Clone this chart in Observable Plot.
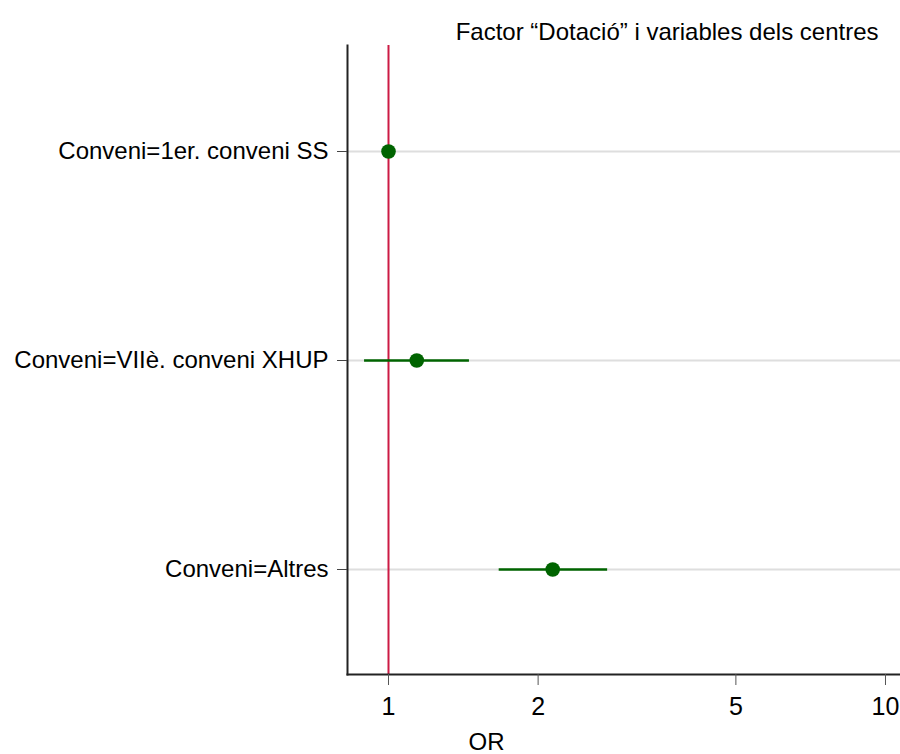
<!DOCTYPE html>
<html>
<head>
<meta charset="utf-8">
<script src="https://cdn.jsdelivr.net/npm/d3@7"></script>
<script src="https://cdn.jsdelivr.net/npm/@observablehq/plot@0.6"></script>
<style>
  html, body { margin: 0; padding: 0; background: #fff; }
  svg { display: block; }
</style>
</head>
<body>
<div id="chart"></div>
<script>
const categories = ["Conveni=1er. conveni SS", "Conveni=VIIè. conveni XHUP", "Conveni=Altres"];
const orValues = [1.0, 1.14, 2.14];
const ciLow = [1.0, 0.895, 1.67];
const ciHigh = [1.0, 1.455, 2.76];
const xTicks = [1, 2, 5, 10];
const xDomain = [0.827, 10.72];
const refValue = [1];
const titleText = "Factor \u201cDotació\u201d i variables dels centres";
const xLabel = "OR";

const rows = categories.map((c, i) => ({cat: c, or: orValues[i], lo: ciLow[i], hi: ciHigh[i]}));

const font = "'Liberation Sans', Arial, Helvetica, sans-serif";
const green = "#006400";
const fs = 24;

const chart = Plot.plot({
  width: 900,
  height: 754,
  marginLeft: 347,
  marginRight: 0,
  marginTop: 45,
  marginBottom: 80,
  style: {fontFamily: font, fontSize: fs + "px", color: "#000", background: "#fff"},
  x: {type: "log", domain: xDomain},
  y: {type: "point", domain: categories, padding: 0.5},
  marks: [
    Plot.ruleY(categories, {y: d => d, stroke: "#dedede", strokeWidth: 2}),
    Plot.ruleX(refValue, {stroke: "#cc1a44", strokeWidth: 2}),
    Plot.ruleY(rows, {y: "cat", x1: "lo", x2: "hi", stroke: green, strokeWidth: 2.5}),
    Plot.dot(rows, {y: "cat", x: "or", r: 7.3, fill: green, stroke: "none"}),
    Plot.frame({anchor: "left", stroke: "#222", strokeWidth: 2}),
    Plot.frame({anchor: "bottom", stroke: "#222", strokeWidth: 2}),
    Plot.axisX({ticks: xTicks, tickFormat: d => String(d), tickSize: 11, tickPadding: 12, fontSize: 25, label: null, stroke: "#555"}),
    Plot.axisY({tickSize: 10, tickPadding: 9, fontSize: fs, label: null, stroke: "#444"}),
    Plot.text([xLabel], {frameAnchor: "bottom-left", dx: 139, dy: 68, lineAnchor: "middle", fontSize: fs, fill: "#000", textAnchor: "middle"}),
    Plot.text([titleText], {frameAnchor: "top-right", dx: -22, dy: -13, lineAnchor: "middle", fontSize: fs, fill: "#000", textAnchor: "end"})
  ]
});
document.getElementById("chart").appendChild(chart);
</script>
</body>
</html>
